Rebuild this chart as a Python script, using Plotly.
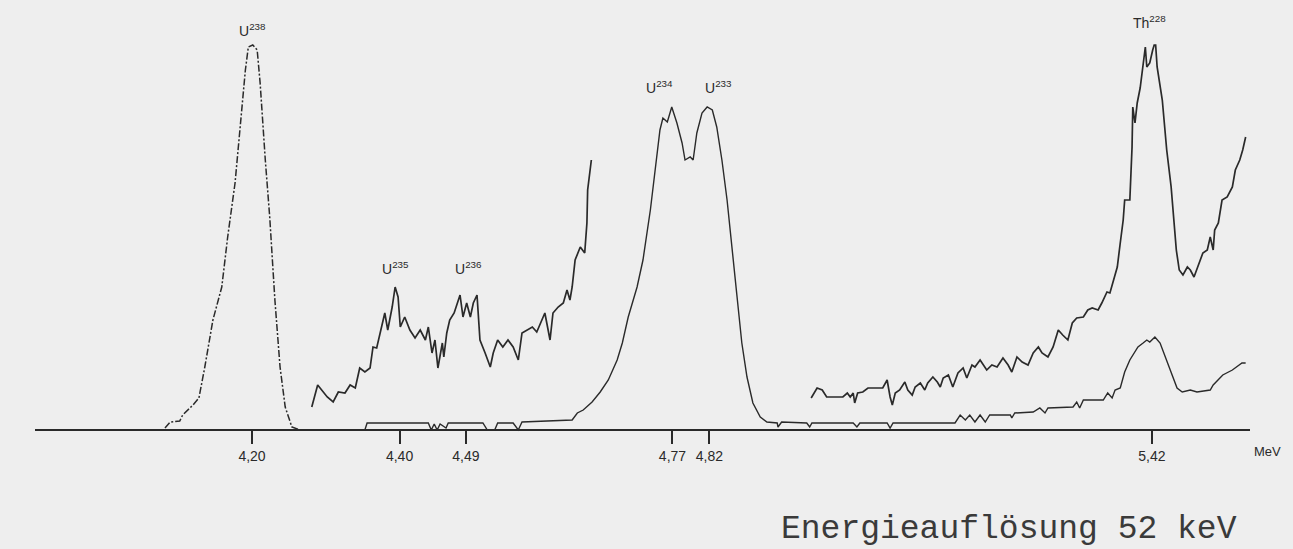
import plotly.graph_objects as go

# Alpha spectrum of a uranium / thorium sample, energies in MeV, counts in relative units

# U-238 peak (recorded at low gain, drawn dash-dotted)
u238_energy = [4.082, 4.089, 4.102, 4.106, 4.120, 4.128, 4.136, 4.147, 4.159, 4.167,
               4.177, 4.184, 4.191, 4.195, 4.201, 4.207, 4.211, 4.218, 4.224, 4.231,
               4.238, 4.245, 4.254, 4.265]
u238_counts = [2, 8, 9, 15, 25, 32, 63, 110, 143, 193,
               247, 303, 360, 383, 385, 380, 347, 270, 213, 130,
               63, 23, 3, 0]

# Expanded trace of the U-235 / U-236 region
u235_energy = [4.281, 4.289, 4.302, 4.310, 4.317, 4.326, 4.333, 4.340, 4.346, 4.353,
               4.360, 4.364, 4.369, 4.376, 4.380, 4.384, 4.390, 4.394, 4.398, 4.401,
               4.407, 4.414, 4.421, 4.428, 4.435, 4.439, 4.444, 4.448, 4.452, 4.458,
               4.460, 4.464, 4.468, 4.474, 4.478, 4.482, 4.486, 4.491, 4.496, 4.500,
               4.505, 4.509, 4.516, 4.523, 4.527, 4.533, 4.540, 4.547, 4.554, 4.561,
               4.566, 4.573, 4.580, 4.586, 4.593, 4.597, 4.604, 4.608, 4.615, 4.622,
               4.627, 4.631, 4.634, 4.638, 4.645, 4.651, 4.654, 4.655, 4.660]
u235_counts = [23, 45, 33, 28, 38, 37, 45, 42, 62, 58,
               62, 83, 82, 103, 117, 100, 123, 143, 133, 103,
               113, 100, 92, 100, 90, 103, 77, 90, 62, 87,
               73, 97, 110, 117, 127, 135, 113, 127, 113, 127,
               135, 90, 77, 63, 77, 90, 83, 90, 83, 70,
               97, 100, 103, 98, 110, 117, 90, 117, 123, 127,
               140, 130, 143, 170, 183, 177, 207, 240, 270]

# Main spectrum at normal gain (U-234 / U-233 doublet and Th-228)
main_energy = [4.265, 4.353, 4.356, 4.439, 4.443, 4.447, 4.451, 4.455, 4.463, 4.466,
               4.513, 4.519, 4.529, 4.533, 4.554, 4.561, 4.566, 4.604, 4.634, 4.641,
               4.649, 4.661, 4.672, 4.683, 4.695, 4.702, 4.710, 4.722, 4.730, 4.740,
               4.746, 4.753, 4.757, 4.763, 4.769, 4.776, 4.783, 4.787, 4.794, 4.798,
               4.803, 4.810, 4.817, 4.824, 4.830, 4.837, 4.844, 4.851, 4.857, 4.864,
               4.871, 4.879, 4.889, 4.898, 4.912, 4.913, 4.918, 4.952, 4.956, 4.959,
               5.015, 5.020, 5.024, 5.061, 5.065, 5.069, 5.153, 5.160, 5.167, 5.173,
               5.180, 5.187, 5.194, 5.200, 5.228, 5.230, 5.234, 5.259, 5.268, 5.275,
               5.279, 5.313, 5.318, 5.322, 5.327, 5.354, 5.360, 5.366, 5.370, 5.377,
               5.383, 5.390, 5.394, 5.401, 5.408, 5.413, 5.417, 5.424, 5.431, 5.440,
               5.447, 5.454, 5.461, 5.472, 5.481, 5.499, 5.503, 5.516, 5.529, 5.542,
               5.547]
main_counts = [0, 0, 7, 7, 0, 6, 0, 6, 2, 7,
               7, 0, 0, 7, 7, 0, 8, 9, 10, 17,
               20, 28, 38, 50, 70, 87, 113, 143, 170, 220,
               260, 300, 312, 308, 323, 307, 287, 270, 273, 270,
               297, 317, 323, 320, 303, 270, 230, 183, 137, 87,
               53, 27, 13, 8, 7, 3, 8, 7, 3, 7,
               7, 3, 7, 7, 2, 7, 7, 15, 10, 15,
               8, 15, 8, 15, 15, 12, 17, 18, 22, 17,
               22, 23, 28, 22, 30, 30, 37, 32, 40, 42,
               58, 70, 75, 83, 87, 90, 88, 93, 87, 70,
               57, 42, 38, 40, 38, 40, 45, 55, 60, 67,
               67]

# Expanded trace of the high-energy region up to Th-228
th228_energy = [4.958, 4.966, 4.973, 4.979, 5.001, 5.007, 5.011, 5.015, 5.017, 5.021,
                5.028, 5.035, 5.055, 5.061, 5.065, 5.068, 5.072, 5.078, 5.085, 5.089,
                5.095, 5.099, 5.106, 5.112, 5.116, 5.123, 5.129, 5.133, 5.137, 5.144,
                5.150, 5.157, 5.164, 5.169, 5.176, 5.180, 5.187, 5.196, 5.203, 5.210,
                5.218, 5.225, 5.230, 5.237, 5.244, 5.252, 5.259, 5.266, 5.271, 5.279,
                5.286, 5.293, 5.299, 5.306, 5.312, 5.318, 5.327, 5.333, 5.339, 5.347,
                5.352, 5.359, 5.363, 5.367, 5.373, 5.377, 5.381, 5.383, 5.390, 5.393,
                5.394, 5.397, 5.400, 5.404, 5.408, 5.411, 5.413, 5.417, 5.421, 5.423,
                5.425, 5.427, 5.434, 5.440, 5.446, 5.449, 5.453, 5.457, 5.462, 5.468,
                5.472, 5.477, 5.482, 5.489, 5.495, 5.499, 5.503, 5.505, 5.510, 5.515,
                5.522, 5.529, 5.533, 5.539, 5.543, 5.547]
th228_counts = [32, 42, 40, 33, 33, 37, 33, 37, 27, 37,
                38, 42, 42, 50, 33, 25, 37, 40, 48, 40,
                35, 43, 47, 40, 47, 53, 48, 43, 52, 55,
                43, 57, 62, 52, 65, 63, 70, 60, 65, 63,
                72, 65, 58, 73, 68, 65, 77, 83, 77, 73,
                83, 100, 95, 90, 107, 112, 113, 120, 122, 120,
                127, 138, 137, 148, 163, 187, 210, 230, 230, 283,
                323, 307, 327, 342, 367, 383, 363, 367, 380, 385,
                385, 363, 330, 280, 243, 213, 180, 160, 155, 163,
                160, 153, 163, 177, 180, 193, 180, 200, 207, 230,
                233, 243, 260, 270, 280, 293]

# Energy axis ticks (German decimal comma)
tick_energies = [4.20, 4.40, 4.49, 4.77, 4.82, 5.42]
tick_labels = ["4,20", "4,40", "4,49", "4,77", "4,82", "5,42"]

# Peak identifications
peak_names = ["U<sup>238</sup>", "U<sup>235</sup>", "U<sup>236</sup>",
              "U<sup>234</sup>", "U<sup>233</sup>", "Th<sup>228</sup>"]
peak_energies = [4.200, 4.394, 4.493, 4.753, 4.832, 5.417]
peak_label_counts = [400, 162, 162, 343, 343, 408]

INK = "#2a2a2a"
SANS = "Liberation Sans Narrow, Liberation Sans, sans-serif"
fig = go.Figure()

fig.add_trace(go.Scatter(x=u238_energy, y=u238_counts, mode="lines",
                         line=dict(color=INK, width=1.5, dash="7px,2px,2px,2px")))
fig.add_trace(go.Scatter(x=u235_energy, y=u235_counts, mode="lines",
                         line=dict(color=INK, width=1.7)))
fig.add_trace(go.Scatter(x=main_energy, y=main_counts, mode="lines",
                         line=dict(color=INK, width=1.4)))
fig.add_trace(go.Scatter(x=th228_energy, y=th228_counts, mode="lines",
                         line=dict(color=INK, width=1.7)))

for name, e, c in zip(peak_names, peak_energies, peak_label_counts):
    fig.add_annotation(x=e, y=c, xref="x", yref="y", text=name, showarrow=False,
                       yanchor="middle", xanchor="center",
                       font=dict(family=SANS, size=14, color=INK))

fig.add_annotation(x=1.0016, y=0.1767, xref="paper", yref="paper", text="MeV",
                   showarrow=False, xanchor="left", yanchor="middle",
                   font=dict(family=SANS, size=13, color=INK))

fig.add_annotation(x=0.8016, y=0.035, xref="paper", yref="paper",
                   text="Energieauflösung 52 keV", showarrow=False,
                   xanchor="center", yanchor="middle",
                   font=dict(family="Liberation Mono, monospace", size=33, color="#3a3a3a"))

fig.update_xaxes(range=[3.9058, 5.5529], anchor="free", position=0.21676,
                 showline=True, linecolor=INK, linewidth=1.5,
                 ticks="outside", ticklen=13, tickwidth=1.5, tickcolor=INK,
                 tickvals=tick_energies, ticktext=tick_labels,
                 tickfont=dict(family=SANS, size=14, color=INK),
                 showgrid=False, zeroline=False)
fig.update_yaxes(range=[-119, 430], visible=False, showgrid=False, zeroline=False)

fig.update_layout(width=1293, height=549,
                  margin=dict(l=35, r=43, t=0, b=0),
                  paper_bgcolor="#eeeeee", plot_bgcolor="#eeeeee",
                  showlegend=False, hovermode=False)

fig.write_html("out.html", config={"displayModeBar": False})
